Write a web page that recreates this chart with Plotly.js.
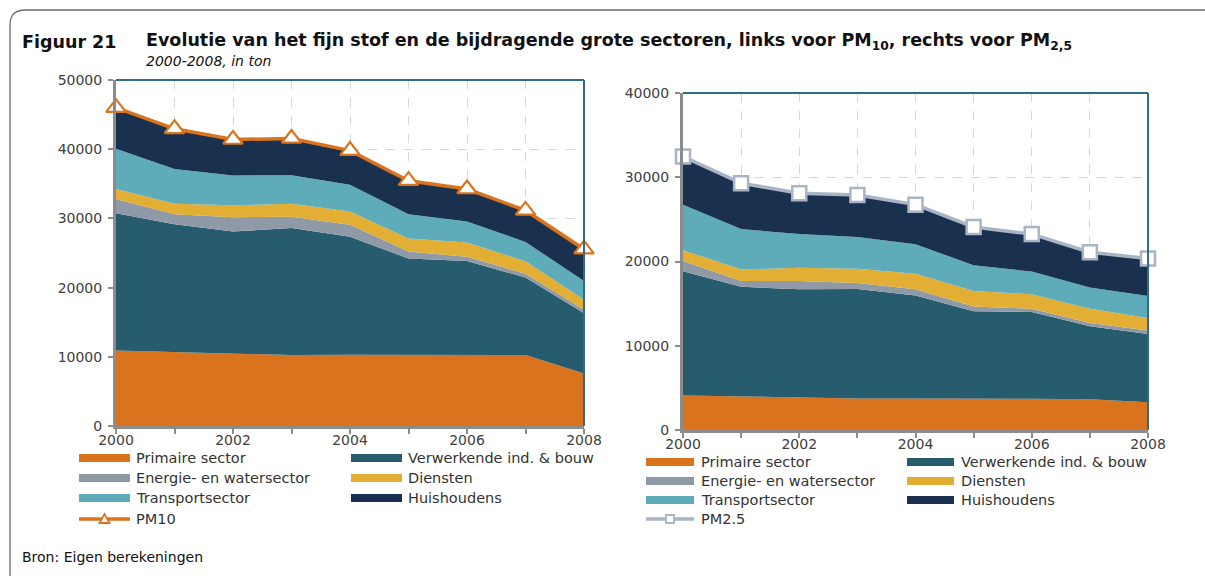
<!DOCTYPE html>
<html lang="nl">
<head>
  <meta charset="UTF-8">
  <title>Figuur 21 - Evolutie van het fijn stof</title>
  <script src="https://cdn.plot.ly/plotly-3.0.1.min.js"></script>
  <style>
    body { margin: 0; background: #ffffff; }
    #chart { width: 1205px; height: 576px; }
  </style>
</head>
<body>
  <div id="chart"></div>

  <script>
    // jaren en tick labels
    const years = [2000, 2001, 2002, 2003, 2004, 2005, 2006, 2007, 2008];
    const labelYears = [2000, 2002, 2004, 2006, 2008];

    const sectorNames = ['Primaire sector', 'Verwerkende ind. & bouw', 'Energie- en watersector',
                         'Diensten', 'Transportsector', 'Huishoudens'];
    const sectorColors = ['#d9731d', '#275b6e', '#8f9aa6', '#e2ae33', '#5eabb9', '#19314f'];

    // PM10 (links), in ton
    const pm10Primaire    = [10900, 10650, 10450, 10250, 10300, 10300, 10250, 10250, 7600];
    const pm10Verwerkende = [19850, 18500, 17650, 18350, 17050, 13900, 13600, 11200, 8700];
    const pm10Energie     = [2050, 1450, 2050, 1650, 1750, 1000, 600, 550, 500];
    const pm10Diensten    = [1450, 1500, 1750, 1850, 1900, 1900, 2050, 1800, 1450];
    const pm10Transport   = [5800, 5050, 4300, 4150, 3850, 3500, 3050, 2800, 2700];
    const pm10Huishoudens = [5950, 5800, 5200, 5300, 4950, 4850, 4700, 4550, 4600];
    const pm10Totaal      = [46000, 42950, 41400, 41550, 39800, 35450, 34250, 31150, 25550];

    // PM2,5 (rechts), in ton
    const pm25Primaire    = [4100, 4000, 3850, 3750, 3750, 3750, 3700, 3650, 3300];
    const pm25Verwerkende = [14750, 13000, 12850, 13000, 12200, 10350, 10300, 8650, 8100];
    const pm25Energie     = [1200, 700, 1000, 700, 750, 550, 400, 400, 400];
    const pm25Diensten    = [1300, 1350, 1550, 1700, 1850, 1850, 1700, 1700, 1500];
    const pm25Transport   = [5400, 4800, 4000, 3750, 3500, 3050, 2700, 2500, 2600];
    const pm25Huishoudens = [5700, 5450, 4850, 5000, 4700, 4550, 4450, 4200, 4450];
    const pm25Totaal      = [32450, 29300, 28100, 27900, 26750, 24100, 23250, 21100, 20350];

    const W = 1205, H = 576;
    const px = x => x / W;
    const py = y => 1 - y / H;

    const FONT = 'DejaVu Sans, sans-serif';
    const GRAY_AXIS = '#8c8c8c';
    const GRID = '#d6d6d6';
    const FRAME = '#2f6d87';

    function areaTraces(series, xa, ya, group) {
      return series.map((vals, i) => ({
        x: years, y: vals, type: 'scatter', mode: 'lines',
        stackgroup: group, name: sectorNames[i],
        line: { width: 0, color: sectorColors[i] },
        fillcolor: sectorColors[i],
        xaxis: xa, yaxis: ya, showlegend: false
      }));
    }

    const data = [
      ...areaTraces([pm10Primaire, pm10Verwerkende, pm10Energie, pm10Diensten, pm10Transport, pm10Huishoudens], 'x', 'y', 'pm10'),
      {
        x: years, y: pm10Totaal, type: 'scatter', mode: 'lines+markers', name: 'PM10',
        line: { color: '#d9731d', width: 3.5 },
        marker: { symbol: 'triangle-up', size: 17, color: '#ffffff', line: { color: '#d9731d', width: 2.2 } },
        cliponaxis: false, xaxis: 'x', yaxis: 'y', showlegend: false
      },
      ...areaTraces([pm25Primaire, pm25Verwerkende, pm25Energie, pm25Diensten, pm25Transport, pm25Huishoudens], 'x2', 'y2', 'pm25'),
      {
        x: years, y: pm25Totaal, type: 'scatter', mode: 'lines+markers', name: 'PM2.5',
        line: { color: '#a9b5c4', width: 3.5 },
        marker: { symbol: 'square', size: 14, color: '#ffffff', line: { color: '#a9b5c4', width: 2.5 } },
        cliponaxis: false, xaxis: 'x2', yaxis: 'y2', showlegend: false
      }
    ];

    function xAxis(domain, anchor) {
      return {
        domain: domain, anchor: anchor, range: [2000, 2008],
        tickvals: labelYears, ticktext: labelYears.map(String),
        ticks: 'outside', ticklen: 5, tickwidth: 2, tickcolor: GRAY_AXIS,
        ticklabelstandoff: -6,
        minor: { tickvals: years, ticks: 'outside', ticklen: 5, tickwidth: 2, tickcolor: GRAY_AXIS,
                 showgrid: true, gridcolor: GRID, griddash: 'dash', gridwidth: 1 },
        showline: true, linecolor: GRAY_AXIS, linewidth: 3,
        showgrid: true, gridcolor: GRID, griddash: 'dash', gridwidth: 1,
        zeroline: false, tickfont: { family: FONT, size: 14, color: '#404040' }
      };
    }
    function yAxis(domain, anchor, max) {
      const vals = [];
      for (let v = 0; v <= max; v += 10000) vals.push(v);
      return {
        domain: domain, anchor: anchor, range: [0, max],
        tickvals: vals, ticktext: vals.map(String),
        ticks: 'outside', ticklen: 5, tickwidth: 2, tickcolor: GRAY_AXIS,
        ticklabelstandoff: 3,
        showline: true, linecolor: GRAY_AXIS, linewidth: 3,
        showgrid: true, gridcolor: GRID, griddash: 'dash', gridwidth: 1,
        zeroline: false, tickfont: { family: FONT, size: 14, color: '#404040' }
      };
    }

    const shapes = [];
    const annotations = [];

    // omkadering van de figuur
    shapes.push({
      type: 'path', xref: 'paper', yref: 'paper', layer: 'above',
      path: `M ${px(10)},${py(576)} L ${px(10)},${py(25)} Q ${px(10)},${py(10)} ${px(25)},${py(10)} L ${px(1205)},${py(10)}`,
      line: { color: '#6b6b6b', width: 1.3 }
    });

    // bovenste en rechter rand van de plotvlakken
    [['x', 'y'], ['x2', 'y2']].forEach(([xa, ya]) => {
      shapes.push({ type: 'line', xref: xa + ' domain', yref: ya + ' domain', x0: 0, x1: 1, y0: 1, y1: 1,
                    line: { color: FRAME, width: 2 }, layer: 'above' });
      shapes.push({ type: 'line', xref: xa + ' domain', yref: ya + ' domain', x0: 1, x1: 1, y0: 0, y1: 1,
                    line: { color: FRAME, width: 2 }, layer: 'above' });
    });

    // titels
    const txt = (x, y, text, size, color) => annotations.push({
      xref: 'paper', yref: 'paper', x: px(x), y: py(y), xanchor: 'left', yanchor: 'middle',
      text: text, showarrow: false, font: { family: FONT, size: size, color: color || '#111111' }
    });

    txt(20, 42, '<b>Figuur 21</b>', 17.5);
    txt(144, 42, '<b>Evolutie van het fijn stof en de bijdragende grote sectoren, links voor PM<sub>10</sub>, rechts voor PM<sub>2,5</sub></b>', 17.5);
    txt(144, 61, '<i>2000-2008, in ton</i>', 14);
    txt(20, 557, 'Bron: Eigen berekeningen', 14);

    // legenda's (handmatig)
    function legend(col1Bar, col1Text, col2Bar, col2Text, rows, pmLabel, pmColor, pmSymbol) {
      sectorNames.forEach((name, i) => {
        const col = i % 2, row = Math.floor(i / 2);
        const bx = col === 0 ? col1Bar : col2Bar;
        const tx = col === 0 ? col1Text : col2Text;
        const yc = rows[row];
        shapes.push({ type: 'rect', xref: 'paper', yref: 'paper',
          x0: px(bx[0]), x1: px(bx[1]), y0: py(yc + 4), y1: py(yc - 4),
          fillcolor: sectorColors[i], line: { width: 0 } });
        txt(tx, yc, name, 14.5, '#333333');
      });
      const yc = rows[3];
      const cx = (col1Bar[0] + col1Bar[1]) / 2;
      shapes.push({ type: 'line', xref: 'paper', yref: 'paper',
        x0: px(col1Bar[0]), x1: px(col1Bar[1]), y0: py(yc), y1: py(yc),
        line: { color: pmColor, width: 3.5 } });
      let p;
      if (pmSymbol === 'triangle') {
        p = `M ${px(cx - 5)},${py(yc + 4)} L ${px(cx + 5)},${py(yc + 4)} L ${px(cx)},${py(yc - 5)} Z`;
      } else {
        p = `M ${px(cx - 4)},${py(yc + 4)} L ${px(cx + 4)},${py(yc + 4)} L ${px(cx + 4)},${py(yc - 4)} L ${px(cx - 4)},${py(yc - 4)} Z`;
      }
      shapes.push({ type: 'path', xref: 'paper', yref: 'paper', path: p,
        fillcolor: '#ffffff', line: { color: pmColor, width: 1.8 } });
      txt(col1Text, yc, pmLabel, 14.5, '#333333');
    }

    legend([79, 130], 134, [351, 402], 406, [458, 478, 498, 519], 'PM10', '#d9731d', 'triangle');
    legend([646, 694], 699, [907, 954], 959, [462, 481, 500, 519], 'PM2.5', '#a9b5c4', 'square');

    const layout = {
      width: W, height: H,
      margin: { l: 0, r: 0, t: 0, b: 0 },
      paper_bgcolor: '#ffffff', plot_bgcolor: '#ffffff',
      showlegend: false,
      font: { family: FONT },
      xaxis: xAxis([px(116), px(584)], 'y'),
      yaxis: yAxis([py(426), py(80)], 'x', 50000),
      xaxis2: xAxis([px(683), px(1148)], 'y2'),
      yaxis2: yAxis([py(430), py(93)], 'x2', 40000),
      shapes: shapes,
      annotations: annotations
    };

    Plotly.newPlot('chart', data, layout, { displayModeBar: false, staticPlot: true });
  </script>
</body>
</html>
